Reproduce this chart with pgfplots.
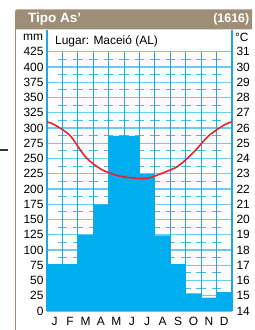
\documentclass[border=0pt]{standalone}
\usepackage{pgfplots}
\pgfplotsset{compat=1.18}
\usepackage{fontspec}
\setmainfont{Liberation Sans}
\definecolor{titlebrown}{HTML}{9E8E77}
\definecolor{barblue}{HTML}{00AEEF}
\definecolor{vgrid}{HTML}{1FA6E3}
\definecolor{hgrid}{HTML}{6CCBF2}
\definecolor{dgrid}{HTML}{40BBEE}
\definecolor{tred}{HTML}{E3262B}
\pgfplotsset{base/.style={
  at={(47bp,19bp)}, anchor=south west,
  scale only axis, width=185bp, height=280.6bp,
  xmin=0, xmax=12, clip=false,
  axis line style={draw=none},
  major tick length=0pt,
  /pgf/number format/assume math mode=true,
  tick label style={font=\fontsize{12}{14}\selectfont},
}}
\begin{document}
\begin{tikzpicture}[x=1bp,y=1bp]
\useasboundingbox (0,0) rectangle (255,330);
% title bar
\fill[titlebrown] (15,300.5) [rounded corners=2bp] -- (15,320.5) [sharp corners] -- (252,320.5) -- (252,300.5) -- cycle;
\node[anchor=west, text=white, font=\fontsize{13.5}{15}\selectfont\bfseries, inner sep=0] at (28,310.5) {Tipo As'};
\node[anchor=east, text=white, font=\fontsize{12.5}{14}\selectfont\bfseries, inner sep=0] at (249.5,310.5) {(1616)};
\draw[titlebrown, line width=1bp] (15,0) -- (15,300.5);
\draw[black!80, line width=1.5bp] (0,180) -- (8,180);
\node[anchor=east, font=\fontsize{12}{14}\selectfont, inner sep=0] at (43.3,292.5) {mm};
\node[anchor=west, font=\fontsize{12}{14}\selectfont, inner sep=0] at (235,292.5) {°C};
\node[anchor=west, font=\fontsize{12}{14}\selectfont, inner sep=0] at (55,289) {Lugar: Maceió (AL)};

% grid axis
\begin{axis}[base, ymin=0, ymax=460, hide axis]
\pgfplotsinvokeforeach{0,25,...,425}{
  \draw[hgrid, line width=1.2bp] (axis cs:0,#1) -- (axis cs:12,#1);
}
\pgfplotsinvokeforeach{12.5,37.5,...,412.5}{
  \draw[dgrid, line width=1.2bp, dash pattern=on 9.5bp off 5.9167bp] (axis cs:0.692,#1) -- (axis cs:11.308,#1);
}
\pgfplotsinvokeforeach{1,...,11}{
  \draw[vgrid, line width=1.1bp] (axis cs:#1,0) -- (axis cs:#1,425);
}
\draw[vgrid, line width=1.1bp] (axis cs:0,0) -- (axis cs:0,460);
\draw[vgrid, line width=1.1bp] (axis cs:12,0) -- (axis cs:12,460);
\end{axis}

% precipitation axis
\begin{axis}[base, ymin=0, ymax=460,
  xtick={0.5,1.5,...,11.5},
  xticklabels={J,F,M,A,M,J,J,A,S,O,N,D},
  xticklabel style={anchor=base, yshift=-14bp},
  ytick={0,25,...,425},
  yticklabel style={anchor=east},
]
\addplot[const plot, fill=barblue, draw=none] coordinates {
 (0,77) (1,77) (2,125) (3,175) (4,287) (5,287) (6,225) (7,124) (8,77) (9,29) (10,22) (11,31) (12,31)
} \closedcycle;
\end{axis}

% temperature axis
\begin{axis}[base, ymin=14, ymax=32.4,
  axis x line=none,
  axis y line*=right,
  ytick={14,15,...,31},
  yticklabel style={anchor=west, xshift=1bp},
]
\addplot[tred, line width=1.6bp, smooth] coordinates {
 (0,26.4) (0.5,26.2) (1.5,25.5) (2.5,24.1) (3.5,23.3) (4.5,22.9) (5.5,22.73) (6.5,22.7) (7.5,23.05) (8.5,23.5) (9.5,24.4) (10.5,25.5) (11.5,26.2) (12,26.4)
};
\end{axis}
\end{tikzpicture}
\end{document}
